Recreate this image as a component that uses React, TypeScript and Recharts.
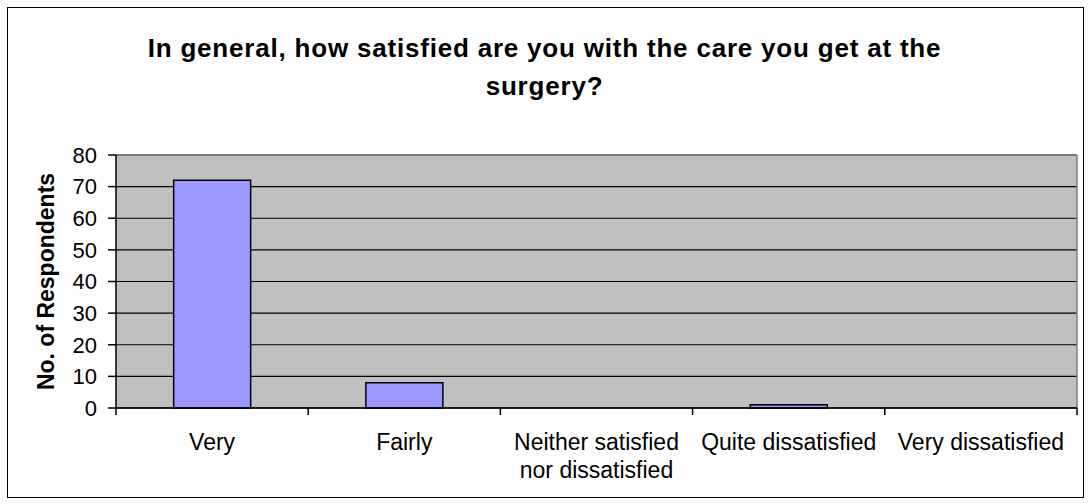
import React from 'react';
import { BarChart, Bar, XAxis, YAxis, CartesianGrid } from 'recharts';

const categories = ['Very', 'Fairly', 'Neither satisfied\nnor dissatisfied', 'Quite dissatisfied', 'Very dissatisfied'];
const respondents = [72, 8, 0, 1, 0];
const yTicks = [0, 10, 20, 30, 40, 50, 60, 70, 80];
const titleLines = ['In general, how satisfied are you with the care you get at the', 'surgery?'];
const yLabel = 'No. of Respondents';

const data = categories.map((category, i) => ({ category, value: respondents[i] }));

const FONT = '"Liberation Sans", Arial, sans-serif';

// category labels + the little ticks that sit between categories (Excel style)
const CategoryTick = (props: any) => {
  const { x, y, payload, index } = props;
  const half = payload.offset ?? 0;
  const lines = String(payload.value).split('\n');
  const last = index === categories.length - 1;
  return (
    <g>
      <line x1={x - half} x2={x - half} y1={y - 7} y2={y} stroke="#000" strokeWidth={1.5} />
      {last && <line x1={x + half} x2={x + half} y1={y - 7} y2={y} stroke="#000" strokeWidth={1.5} />}
      <text x={x} y={y} textAnchor="middle" fontFamily={FONT} fontSize={23} fill="#000">
        {lines.map((l, i) => (
          <tspan key={i} x={x} dy={i === 0 ? 35 : 27.5}>{l}</tspan>
        ))}
      </text>
    </g>
  );
};

const YLabel = ({ viewBox }: any) => {
  const cx = viewBox.x + 46;
  const cy = viewBox.y + viewBox.height / 2;
  return (
    <text
      x={cx}
      y={cy}
      transform={`rotate(-90 ${cx} ${cy})`}
      textAnchor="middle"
      dominantBaseline="central"
      fontFamily={FONT}
      fontSize={23}
      fontWeight="bold"
      fill="#000"
    >
      {yLabel}
    </text>
  );
};

export default function App() {
  return (
    <div style={{ position: 'absolute', left: 0, top: 0, width: 1089, height: 504, background: '#fff' }}>
      <div
        style={{
          position: 'absolute', left: 7, top: 7, width: 1075, height: 489,
          border: '1px solid #000',
        }}
      />
      <div
        style={{
          position: 'absolute', left: 0, top: 29, width: 1089, textAlign: 'center',
          fontFamily: FONT, fontWeight: 'bold', fontSize: 26, lineHeight: '38px',
          letterSpacing: '0.8px', color: '#000',
        }}
      >
        {titleLines.map((t, i) => <div key={i}>{t}</div>)}
      </div>
      <div style={{ position: 'absolute', left: 0, top: 0 }}>
        <BarChart
          width={1089}
          height={504}
          data={data}
          margin={{ top: 155, right: 12, bottom: 16, left: 0 }}
          barCategoryGap="30%"
        >
          <CartesianGrid fill="#C0C0C0" stroke="#000" strokeWidth={1.2} vertical={false} />
          <CartesianGrid
            fill="none"
            stroke="#808080"
            strokeWidth={1.5}
            horizontalCoordinatesGenerator={({ offset }: any) => [offset.top]}
            verticalCoordinatesGenerator={({ offset }: any) => [offset.left + offset.width]}
          />
          <XAxis
            dataKey="category"
            height={80}
            interval={0}
            tickLine={false}
            tickSize={7}
            tickMargin={0}
            axisLine={{ stroke: '#000', strokeWidth: 1.5 }}
            tick={<CategoryTick />}
          />
          <YAxis
            width={116}
            domain={[0, 80]}
            ticks={yTicks}
            interval={0}
            tickSize={8}
            tickMargin={11}
            axisLine={{ stroke: '#000', strokeWidth: 1.5 }}
            tickLine={{ stroke: '#000', strokeWidth: 1.5 }}
            tick={{ fill: '#000', fontFamily: FONT, fontSize: 22 }}
            label={<YLabel />}
          />
          <Bar dataKey="value" fill="#9999FF" stroke="#000" strokeWidth={1.5} isAnimationActive={false} />
        </BarChart>
      </div>
    </div>
  );
}
